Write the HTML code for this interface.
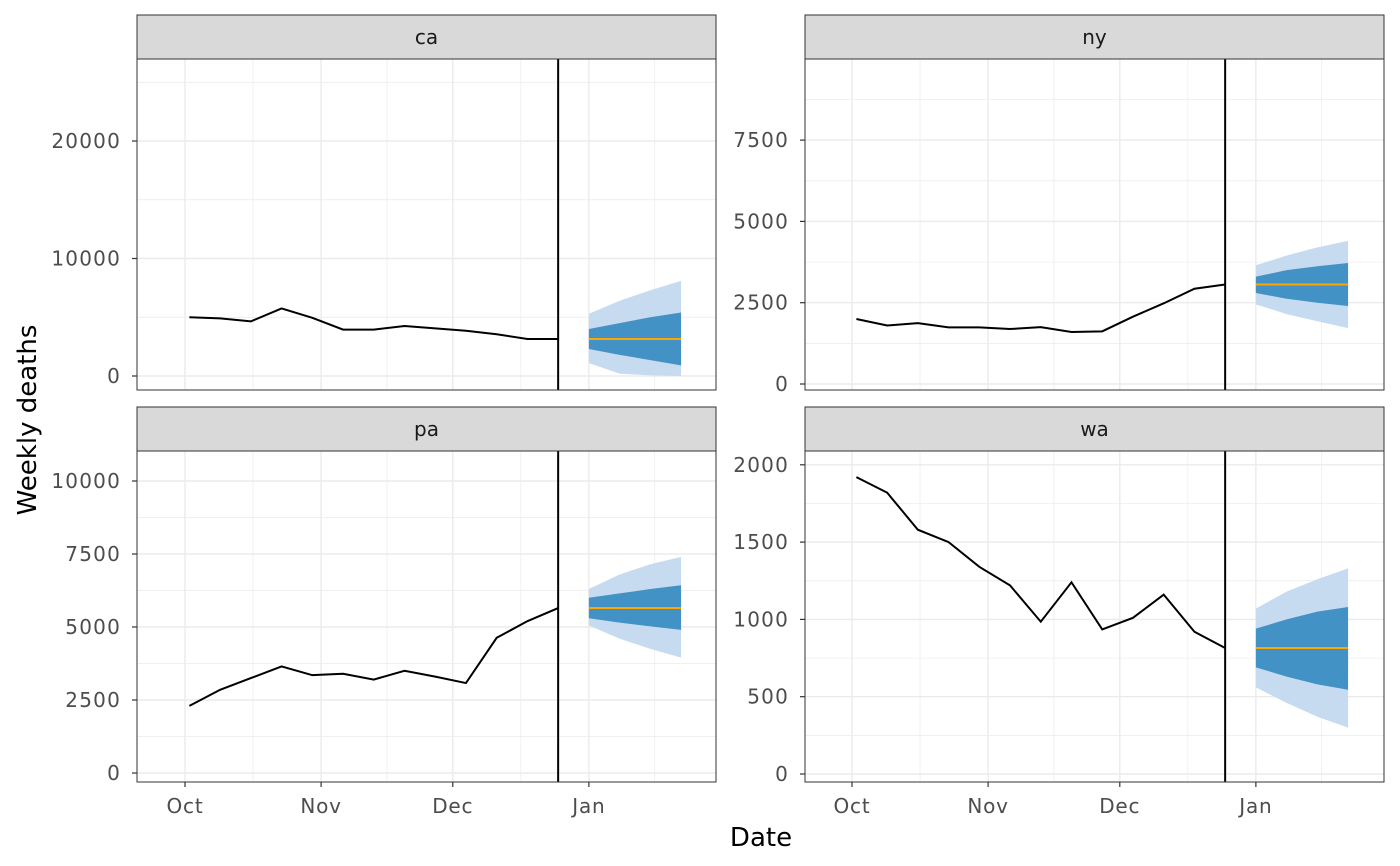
<!DOCTYPE html>
<html><head><meta charset="utf-8"><style>
html,body{margin:0;padding:0;background:#fff;}
svg{display:block;font-family:"DejaVu Sans","Liberation Sans",sans-serif;}
</style></head><body>
<svg id="chart" width="1400" height="866"></svg>
<script>
const panelNames = ["ca","ny","pa","wa"];
const obsDays = [1,8,15,22,29,36,43,50,57,64,71,78,85];
const fcDays = [92,99,106,113];
const forecastDate = 85;
const monthLabels = ["Oct","Nov","Dec","Jan"];
const monthDays = [0,31,61,92];
const caObs = [5000,4900,4650,5750,4950,3950,3950,4250,4050,3850,3550,3150,3150];
const nyObs = [2000,1800,1870,1740,1740,1690,1750,1600,1620,2070,2480,2930,3060];
const paObs = [2300,2850,3250,3650,3350,3400,3200,3500,3300,3080,4630,5200,5650];
const waObs = [1920,1820,1580,1500,1340,1220,985,1240,935,1010,1160,920,815];
const caMed = [3150,3150,3150,3150];
const caLo50 = [2300,1800,1350,900];
const caHi50 = [4000,4500,5000,5400];
const caLo90 = [1100,200,50,0];
const caHi90 = [5300,6400,7300,8100];
const nyMed = [3060,3060,3060,3060];
const nyLo50 = [2800,2620,2500,2400];
const nyHi50 = [3300,3500,3620,3720];
const nyLo90 = [2450,2150,1930,1720];
const nyHi90 = [3650,3950,4200,4400];
const paMed = [5650,5650,5650,5650];
const paLo50 = [5300,5150,5020,4900];
const paHi50 = [6000,6150,6300,6430];
const paLo90 = [5050,4600,4250,3950];
const paHi90 = [6300,6800,7150,7400];
const waMed = [815,815,815,815];
const waLo50 = [690,630,580,545];
const waHi50 = [940,1000,1050,1080];
const waLo90 = [560,460,370,300];
const waHi90 = [1070,1180,1260,1330];
const caTicks = [0,10000,20000];
const nyTicks = [0,2500,5000,7500];
const paTicks = [0,2500,5000,7500,10000];
const waTicks = [0,500,1000,1500,2000];

const panels = [
 {name:"ca",x0:137,x1:716,y0:59,y1:390,oct:185,zeroY:376,perUnit:11.75/1000,ticks:caTicks,obs:caObs,med:caMed,lo50:caLo50,hi50:caHi50,lo90:caLo90,hi90:caHi90,sy:15},
 {name:"ny",x0:805,x1:1384,y0:59,y1:390,oct:852,zeroY:384,perUnit:81.3/2500,ticks:nyTicks,obs:nyObs,med:nyMed,lo50:nyLo50,hi50:nyHi50,lo90:nyLo90,hi90:nyHi90,sy:15},
 {name:"pa",x0:137,x1:716,y0:451,y1:782,oct:185,zeroY:773,perUnit:73/2500,ticks:paTicks,obs:paObs,med:paMed,lo50:paLo50,hi50:paHi50,lo90:paLo90,hi90:paHi90,sy:407},
 {name:"wa",x0:805,x1:1384,y0:451,y1:782,oct:852,zeroY:774,perUnit:77.3/500,ticks:waTicks,obs:waObs,med:waMed,lo50:waLo50,hi50:waHi50,lo90:waLo90,hi90:waHi90,sy:407}
];
const NS="http://www.w3.org/2000/svg";
const svg=document.getElementById('chart');
function mk(tag,attrs,parent){const e=document.createElementNS(NS,tag);for(const k in attrs)e.setAttribute(k,attrs[k]);(parent||svg).appendChild(e);return e;}
const defs=mk('defs',{});
const pxDay=4.39;
panels.forEach((p,pi)=>{
 const cp=mk('clipPath',{id:'clip'+pi},defs);
 mk('rect',{x:p.x0,y:p.y0,width:p.x1-p.x0,height:p.y1-p.y0},cp);
 const g=mk('g',{});
 
 
 const gc=mk('g',{'clip-path':'url(#clip'+pi+')'},g);
 const X=d=>p.oct+d*pxDay;
 const Y=v=>p.zeroY-v*p.perUnit;
 const step=p.ticks[1]-p.ticks[0];
 for(let v=-step/2;Y(v)>p.y0;v+=step){ if(Y(v)<p.y1) mk('line',{x1:p.x0,x2:p.x1,y1:Y(v),y2:Y(v),stroke:'#ebebeb','stroke-width':0.7},gc);}
 for(let i=0;i<monthDays.length-1;i++){const m=(monthDays[i]+monthDays[i+1])/2;mk('line',{x1:X(m),x2:X(m),y1:p.y0,y2:p.y1,stroke:'#ebebeb','stroke-width':0.7},gc);}
 const mMid=X((92+122)/2); mk('line',{x1:mMid,x2:mMid,y1:p.y0,y2:p.y1,stroke:'#ebebeb','stroke-width':0.7},gc);
 p.ticks.forEach(v=>{mk('line',{x1:p.x0,x2:p.x1,y1:Y(v),y2:Y(v),stroke:'#ebebeb','stroke-width':1.4},gc);});
 monthDays.forEach(d=>{mk('line',{x1:X(d),x2:X(d),y1:p.y0,y2:p.y1,stroke:'#ebebeb','stroke-width':1.4},gc);});
 const band=(lo,hi,fill,nm)=>{let pts=fcDays.map((d,i)=>X(d)+','+Y(hi[i]));pts=pts.concat(fcDays.map((d,i)=>X(d)+','+Y(lo[i])).reverse());const b=mk('polygon',{points:pts.join(' '),fill:fill},gc);};
 band(p.lo90,p.hi90,'#c6dbef','interval-90-'+p.name);
 band(p.lo50,p.hi50,'#4292c6','interval-50-'+p.name);
 const med=mk('polyline',{points:fcDays.map((d,i)=>X(d)+','+Y(p.med[i])).join(' '),fill:'none',stroke:'#ffa500','stroke-width':2},gc);
 
 
 const obs=mk('polyline',{points:obsDays.map((d,i)=>X(d)+','+Y(p.obs[i])).join(' '),fill:'none',stroke:'#000','stroke-width':2},gc);
 
 
 const vl=mk('line',{x1:X(forecastDate),x2:X(forecastDate),y1:p.y0,y2:p.y1,stroke:'#000','stroke-width':2},gc);
 
 
 mk('rect',{x:p.x0,y:p.y0,width:p.x1-p.x0,height:p.y1-p.y0,fill:'none',stroke:'#333','stroke-width':1},g);
 const s=mk('rect',{x:p.x0,y:p.sy,width:p.x1-p.x0,height:p.y0-p.sy,fill:'#d9d9d9',stroke:'#333','stroke-width':1},g);
 
 
 const st=mk('text',{x:(p.x0+p.x1)/2,y:p.sy+29,'text-anchor':'middle','font-size':20,fill:'#1a1a1a'},g);
 st.textContent=p.name;
 
 
 p.ticks.forEach(v=>{
  mk('line',{x1:p.x0-5,x2:p.x0,y1:Y(v),y2:Y(v),stroke:'#333','stroke-width':1.2},g);
  const t=mk('text',{x:p.x0-16,y:Y(v)+7,'text-anchor':'end','font-size':20,'letter-spacing':1.2,fill:'#4d4d4d'},g);
  t.textContent=v;
  
  
 });
 if(pi>=2){
  monthDays.forEach((d,i)=>{
   mk('line',{x1:X(d),x2:X(d),y1:p.y1,y2:p.y1+5,stroke:'#333','stroke-width':1.2},g);
   const t=mk('text',{x:X(d),y:p.y1+31,'text-anchor':'middle','font-size':20,'letter-spacing':0.8,fill:'#4d4d4d'},g);
   t.textContent=monthLabels[i];
   
   
  });
 }
});
const xt=mk('text',{x:761,y:846,'text-anchor':'middle','font-size':26,fill:'#000'});
xt.textContent='Date';


const yt=mk('text',{x:0,y:0,'text-anchor':'middle','font-size':26,fill:'#000',transform:'translate(36,420) rotate(-90)'});
yt.textContent='Weekly deaths';


</script>
</body></html>
